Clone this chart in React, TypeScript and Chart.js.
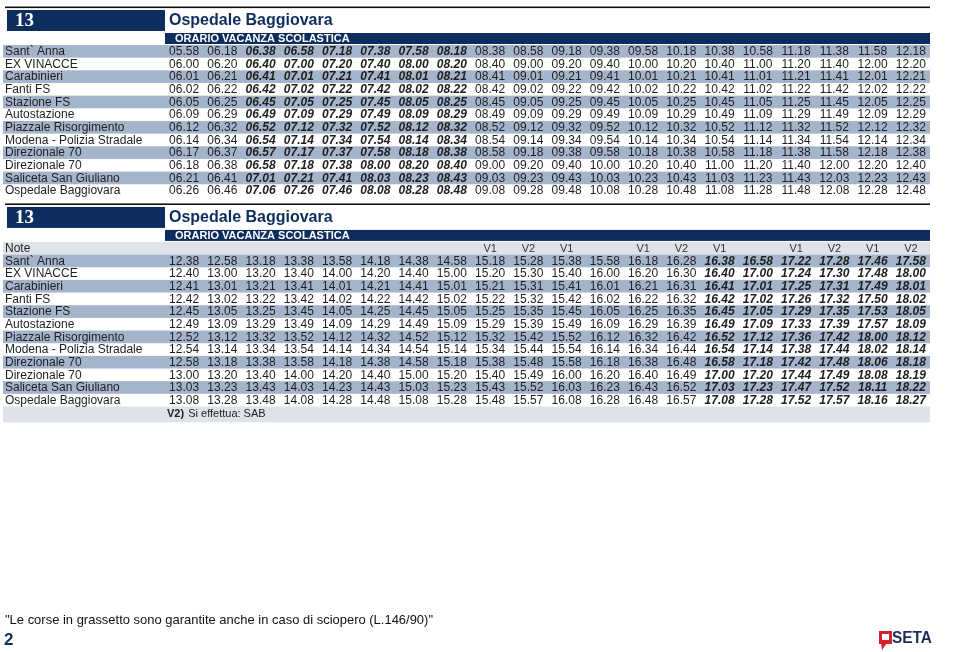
import React, { useEffect, useRef } from "react";
import { Chart, registerables } from "chart.js";

Chart.register(...registerables);

// ---------- text ----------
const ROUTE = "13";
const DESTINATION = "Ospedale Baggiovara";
const PERIOD = "ORARIO VACANZA SCOLASTICA";
const NOTE_LABEL = "Note";
const NOTE_CODE = "V2)";
const NOTE_TEXT = "Si effettua: SAB";
const STRIKE_NOTE = "\"Le corse in grassetto sono garantite anche in caso di sciopero (L.146/90)\"";
const PAGE_NUMBER = "2";
const BRAND = "SETA";

const STATIONS = [
  "Sant` Anna",
  "EX VINACCE",
  "Carabinieri",
  "Fanti FS",
  "Stazione FS",
  "Autostazione",
  "Piazzale Risorgimento",
  "Modena - Polizia Stradale",
  "Direzionale 70",
  "Direzionale 70",
  "Saliceta San Giuliano",
  "Ospedale Baggiovara",
];

// ---------- first table (morning) ----------
const AM_SANT_ANNA = ["05.58","06.18","06.38","06.58","07.18","07.38","07.58","08.18","08.38","08.58","09.18","09.38","09.58","10.18","10.38","10.58","11.18","11.38","11.58","12.18"];
const AM_EX_VINACCE = ["06.00","06.20","06.40","07.00","07.20","07.40","08.00","08.20","08.40","09.00","09.20","09.40","10.00","10.20","10.40","11.00","11.20","11.40","12.00","12.20"];
const AM_CARABINIERI = ["06.01","06.21","06.41","07.01","07.21","07.41","08.01","08.21","08.41","09.01","09.21","09.41","10.01","10.21","10.41","11.01","11.21","11.41","12.01","12.21"];
const AM_FANTI_FS = ["06.02","06.22","06.42","07.02","07.22","07.42","08.02","08.22","08.42","09.02","09.22","09.42","10.02","10.22","10.42","11.02","11.22","11.42","12.02","12.22"];
const AM_STAZIONE_FS = ["06.05","06.25","06.45","07.05","07.25","07.45","08.05","08.25","08.45","09.05","09.25","09.45","10.05","10.25","10.45","11.05","11.25","11.45","12.05","12.25"];
const AM_AUTOSTAZIONE = ["06.09","06.29","06.49","07.09","07.29","07.49","08.09","08.29","08.49","09.09","09.29","09.49","10.09","10.29","10.49","11.09","11.29","11.49","12.09","12.29"];
const AM_RISORGIMENTO = ["06.12","06.32","06.52","07.12","07.32","07.52","08.12","08.32","08.52","09.12","09.32","09.52","10.12","10.32","10.52","11.12","11.32","11.52","12.12","12.32"];
const AM_POLIZIA = ["06.14","06.34","06.54","07.14","07.34","07.54","08.14","08.34","08.54","09.14","09.34","09.54","10.14","10.34","10.54","11.14","11.34","11.54","12.14","12.34"];
const AM_DIREZIONALE_A = ["06.17","06.37","06.57","07.17","07.37","07.58","08.18","08.38","08.58","09.18","09.38","09.58","10.18","10.38","10.58","11.18","11.38","11.58","12.18","12.38"];
const AM_DIREZIONALE_B = ["06.18","06.38","06.58","07.18","07.38","08.00","08.20","08.40","09.00","09.20","09.40","10.00","10.20","10.40","11.00","11.20","11.40","12.00","12.20","12.40"];
const AM_SALICETA = ["06.21","06.41","07.01","07.21","07.41","08.03","08.23","08.43","09.03","09.23","09.43","10.03","10.23","10.43","11.03","11.23","11.43","12.03","12.23","12.43"];
const AM_OSPEDALE = ["06.26","06.46","07.06","07.26","07.46","08.08","08.28","08.48","09.08","09.28","09.48","10.08","10.28","10.48","11.08","11.28","11.48","12.08","12.28","12.48"];
const AM_BOLD_COLUMNS = [2, 3, 4, 5, 6, 7];

// ---------- second table (afternoon) ----------
const PM_NOTES = ["","","","","","","","","V1","V2","V1","","V1","V2","V1","","V1","V2","V1","V2"];
const PM_SANT_ANNA = ["12.38","12.58","13.18","13.38","13.58","14.18","14.38","14.58","15.18","15.28","15.38","15.58","16.18","16.28","16.38","16.58","17.22","17.28","17.46","17.58"];
const PM_EX_VINACCE = ["12.40","13.00","13.20","13.40","14.00","14.20","14.40","15.00","15.20","15.30","15.40","16.00","16.20","16.30","16.40","17.00","17.24","17.30","17.48","18.00"];
const PM_CARABINIERI = ["12.41","13.01","13.21","13.41","14.01","14.21","14.41","15.01","15.21","15.31","15.41","16.01","16.21","16.31","16.41","17.01","17.25","17.31","17.49","18.01"];
const PM_FANTI_FS = ["12.42","13.02","13.22","13.42","14.02","14.22","14.42","15.02","15.22","15.32","15.42","16.02","16.22","16.32","16.42","17.02","17.26","17.32","17.50","18.02"];
const PM_STAZIONE_FS = ["12.45","13.05","13.25","13.45","14.05","14.25","14.45","15.05","15.25","15.35","15.45","16.05","16.25","16.35","16.45","17.05","17.29","17.35","17.53","18.05"];
const PM_AUTOSTAZIONE = ["12.49","13.09","13.29","13.49","14.09","14.29","14.49","15.09","15.29","15.39","15.49","16.09","16.29","16.39","16.49","17.09","17.33","17.39","17.57","18.09"];
const PM_RISORGIMENTO = ["12.52","13.12","13.32","13.52","14.12","14.32","14.52","15.12","15.32","15.42","15.52","16.12","16.32","16.42","16.52","17.12","17.36","17.42","18.00","18.12"];
const PM_POLIZIA = ["12.54","13.14","13.34","13.54","14.14","14.34","14.54","15.14","15.34","15.44","15.54","16.14","16.34","16.44","16.54","17.14","17.38","17.44","18.02","18.14"];
const PM_DIREZIONALE_A = ["12.58","13.18","13.38","13.58","14.18","14.38","14.58","15.18","15.38","15.48","15.58","16.18","16.38","16.48","16.58","17.18","17.42","17.48","18.06","18.18"];
const PM_DIREZIONALE_B = ["13.00","13.20","13.40","14.00","14.20","14.40","15.00","15.20","15.40","15.49","16.00","16.20","16.40","16.49","17.00","17.20","17.44","17.49","18.08","18.19"];
const PM_SALICETA = ["13.03","13.23","13.43","14.03","14.23","14.43","15.03","15.23","15.43","15.52","16.03","16.23","16.43","16.52","17.03","17.23","17.47","17.52","18.11","18.22"];
const PM_OSPEDALE = ["13.08","13.28","13.48","14.08","14.28","14.48","15.08","15.28","15.48","15.57","16.08","16.28","16.48","16.57","17.08","17.28","17.52","17.57","18.16","18.27"];
const PM_BOLD_COLUMNS = [14, 15, 16, 17, 18, 19];

const AM_TIMES = [AM_SANT_ANNA, AM_EX_VINACCE, AM_CARABINIERI, AM_FANTI_FS, AM_STAZIONE_FS, AM_AUTOSTAZIONE, AM_RISORGIMENTO, AM_POLIZIA, AM_DIREZIONALE_A, AM_DIREZIONALE_B, AM_SALICETA, AM_OSPEDALE];
const PM_TIMES = [PM_SANT_ANNA, PM_EX_VINACCE, PM_CARABINIERI, PM_FANTI_FS, PM_STAZIONE_FS, PM_AUTOSTAZIONE, PM_RISORGIMENTO, PM_POLIZIA, PM_DIREZIONALE_A, PM_DIREZIONALE_B, PM_SALICETA, PM_OSPEDALE];

// ---------- layout / style ----------
const W = 960;
const H = 652;
const LABEL_W = 165;
const COL_W = 38.25;
const ROW_H = 12.66;
const FIRST_ROW_PX = 45;
const N_COLS = 20;
const HEADER_ROWS = FIRST_ROW_PX / ROW_H;
const AM_START = 0;
const PM_START = AM_TIMES.length + HEADER_ROWS; // note row of second table
const NAVY = "#0c2d5d";
const STRIPE = "#a4b4cb";
const GREY = "#dfe2e8";
const INK = "#1e1e1e";
const SANS = '"Liberation Sans", Arial, Helvetica, sans-serif';
const NARROW = '"Liberation Sans Narrow", "Arial Narrow", "Liberation Sans", Arial, sans-serif';

function cells(rows: string[][], start: number, bold: number[]) {
  const out: any[] = [];
  rows.forEach((row, r) =>
    row.forEach((t, c) => out.push({ x: c + 0.5, y: start + r + 0.5, t, b: bold.includes(c) }))
  );
  return out;
}

const LABEL_X = (5 - LABEL_W) / COL_W;

const timetablePlugin = {
  id: "timetable",
  beforeDatasetsDraw(chart: any) {
    const { ctx } = chart;
    const xs = chart.scales.x;
    const ys = chart.scales.y;
    const left = 3;
    const right = xs.getPixelForValue(N_COLS);
    const band = (y0: number, y1: number, color: string, x0 = left) => {
      const a = ys.getPixelForValue(y0);
      const b = ys.getPixelForValue(y1);
      ctx.fillStyle = color;
      ctx.fillRect(x0, a, right - x0, b - a);
    };
    ctx.save();
    // stripes
    AM_TIMES.forEach((_, k) => { if (k % 2 === 0) band(AM_START + k, AM_START + k + 1, STRIPE); });
    band(PM_START, PM_START + 1, GREY);
    PM_TIMES.forEach((_, k) => { if (k % 2 === 0) band(PM_START + 1 + k, PM_START + 2 + k, STRIPE); });
    band(PM_START + 13, PM_START + 14.25, GREY);

    // headers
    [AM_START, PM_START].forEach((s) => {
      const p = ys.getPixelForValue(s);
      const x0 = xs.getPixelForValue(0);
      ctx.fillStyle = "#111";
      ctx.fillRect(5, p - 38.5, right - 5, 1.6);
      ctx.fillStyle = NAVY;
      ctx.fillRect(7, p - 35, x0 - 7, 21);
      ctx.fillRect(x0, p - 12, right - x0, 11);
      ctx.textBaseline = "middle";
      ctx.textAlign = "left";
      ctx.fillStyle = "#ffffff";
      ctx.font = 'bold 19px "Liberation Serif", "Times New Roman", serif';
      ctx.fillText(ROUTE, 15, p - 24);
      ctx.font = "bold 11px " + SANS;
      ctx.fillText(PERIOD, x0 + 10, p - 6.2);
      ctx.fillStyle = NAVY;
      ctx.font = "bold 16px " + SANS;
      ctx.fillText(DESTINATION, x0 + 4, p - 24.5);
    });
    ctx.restore();
  },
  afterDatasetsDraw(chart: any) {
    const { ctx } = chart;
    const ys = chart.scales.y;
    const xs = chart.scales.x;
    ctx.save();
    ctx.textBaseline = "middle";
    chart.data.datasets.forEach((ds: any, i: number) => {
      const meta = chart.getDatasetMeta(i);
      ctx.textAlign = ds.textAlign;
      ctx.fillStyle = ds.textColor;
      meta.data.forEach((el: any, j: number) => {
        const d = ds.data[j];
        ctx.font = d.b ? "italic bold " + ds.textSize + "px " + SANS : ds.textSize + "px " + SANS;
        ctx.fillText(d.t, el.x, el.y + 0.5);
      });
    });

    // note row label + footnote
    const noteY = ys.getPixelForValue(PM_START + 13.6);
    const x0 = xs.getPixelForValue(0);
    ctx.textAlign = "left";
    ctx.fillStyle = INK;
    ctx.font = "bold 11px " + SANS;
    ctx.fillText(NOTE_CODE, x0 + 2, noteY);
    const cw = ctx.measureText(NOTE_CODE + " ").width;
    ctx.font = "11px " + SANS;
    ctx.fillText(NOTE_TEXT, x0 + 3 + cw, noteY);

    // bottom footer
    ctx.font = "13px " + NARROW;
    const tw = ctx.measureText(STRIKE_NOTE).width;
    ctx.save();
    ctx.translate(5, 620);
    ctx.scale(428 / tw, 1);
    ctx.fillStyle = "#111";
    ctx.fillText(STRIKE_NOTE, 0, 0);
    ctx.restore();

    ctx.fillStyle = NAVY;
    ctx.font = "bold 17px " + NARROW;
    ctx.fillText(PAGE_NUMBER, 4, 640);

    // logo
    ctx.fillStyle = "#d6202b";
    ctx.fillRect(879, 631, 13, 13);
    ctx.beginPath();
    ctx.moveTo(881, 643);
    ctx.lineTo(887, 643);
    ctx.lineTo(882, 650);
    ctx.closePath();
    ctx.fill();
    ctx.fillStyle = "#ffffff";
    ctx.fillRect(882, 634, 7, 6);
    ctx.fillStyle = "#1b2b5c";
    ctx.font = "bold 16px " + NARROW;
    const bw = ctx.measureText(BRAND).width;
    ctx.save();
    ctx.translate(892, 638.5);
    ctx.scale(40 / bw, 1);
    ctx.fillText(BRAND, 0, 0);
    ctx.restore();
    ctx.restore();
  },
};

export default function App() {
  const ref = useRef<HTMLCanvasElement | null>(null);
  useEffect(() => {
    if (!ref.current) return;
    const base = { type: "scatter", pointRadius: 0, pointHoverRadius: 0, showLine: false };
    const datasets: any[] = [
      { ...base, label: "stations-am", data: STATIONS.map((t, k) => ({ x: LABEL_X, y: AM_START + k + 0.5, t })), textAlign: "left", textColor: INK, textSize: 12 },
      { ...base, label: "note", data: [{ x: LABEL_X, y: PM_START + 0.5, t: NOTE_LABEL }], textAlign: "left", textColor: INK, textSize: 12 },
      { ...base, label: "stations-pm", data: STATIONS.map((t, k) => ({ x: LABEL_X, y: PM_START + 1 + k + 0.5, t })), textAlign: "left", textColor: INK, textSize: 12 },
      { ...base, label: "am", data: cells(AM_TIMES, AM_START, AM_BOLD_COLUMNS), textAlign: "center", textColor: INK, textSize: 12 },
      { ...base, label: "notes", data: PM_NOTES.map((t, c) => ({ x: c + 0.5, y: PM_START + 0.5, t })), textAlign: "center", textColor: "#333", textSize: 11 },
      { ...base, label: "pm", data: cells(PM_TIMES, PM_START + 1, PM_BOLD_COLUMNS), textAlign: "center", textColor: INK, textSize: 12 },
    ];
    const chart = new Chart(ref.current, {
      type: "scatter",
      data: { datasets },
      options: {
        responsive: false,
        animation: false,
        devicePixelRatio: 1,
        events: [],
        layout: { padding: 0 },
        plugins: { legend: { display: false }, tooltip: { enabled: false } },
        scales: {
          x: { type: "linear", display: false, min: -LABEL_W / COL_W, max: (W - LABEL_W) / COL_W },
          y: { type: "linear", display: false, reverse: true, min: -HEADER_ROWS, max: (H - FIRST_ROW_PX) / ROW_H },
        },
      } as any,
      plugins: [timetablePlugin as any],
    } as any);
    return () => chart.destroy();
  }, []);
  return (
    <div style={{ position: "fixed", left: 0, top: 0, width: W, height: H, background: "#fff" }}>
      <canvas ref={ref} width={W} height={H} style={{ display: "block" }} />
    </div>
  );
}
